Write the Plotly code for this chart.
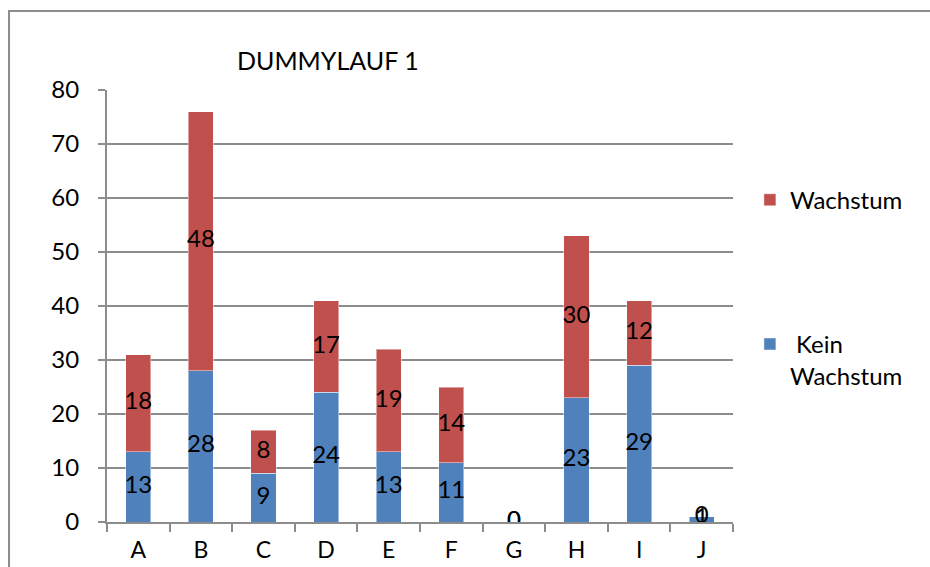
import plotly.graph_objects as go

# Data
categories = ["A", "B", "C", "D", "E", "F", "G", "H", "I", "J"]
kein_wachstum = [13, 28, 9, 24, 13, 11, 0, 23, 29, 1]
wachstum = [18, 48, 8, 17, 19, 14, 0, 30, 12, 0]
y_ticks = [0, 10, 20, 30, 40, 50, 60, 70, 80]

BLUE = "#4F81BD"
RED = "#C0504D"
GRID = "#8C8C8C"
FONT = "Lato"

fig = go.Figure()

fig.add_trace(go.Bar(
    x=categories, y=kein_wachstum, name=" Kein<br>Wachstum",
    marker=dict(color=BLUE, line=dict(color="rgba(255,255,255,0.45)", width=1)),
    legendgroup="kein", legendrank=2, hoverinfo="x+y",
))
fig.add_trace(go.Bar(
    x=categories, y=wachstum, name="Wachstum",
    marker=dict(color=RED, line=dict(color="rgba(255,255,255,0.45)", width=1)),
    legendgroup="wachstum", legendrank=1, hoverinfo="x+y",
))

# Value labels centred in each stacked segment
blue_mid = [v / 2 for v in kein_wachstum]
red_mid = [k + v / 2 for k, v in zip(kein_wachstum, wachstum)]
for mids, vals in ((blue_mid, kein_wachstum), (red_mid, wachstum)):
    fig.add_trace(go.Scatter(
        x=categories, y=mids, text=[str(v) for v in vals], mode="text",
        textposition="middle center",
        textfont=dict(family=FONT, size=24, color="black"),
        showlegend=False, hoverinfo="skip",
    ))

# Outer chart frame
fig.add_shape(
    type="rect", xref="paper", yref="paper",
    x0=-0.1565, x1=1.33, y0=-0.12, y1=1.183,
    line=dict(color=GRID, width=2), fillcolor="rgba(0,0,0,0)", layer="below",
)

fig.add_annotation(
    text="DUMMYLAUF 1", xref="paper", yref="paper",
    x=0.353, y=1.069, xanchor="center", yanchor="middle", showarrow=False,
    font=dict(family=FONT, size=25, color="black"),
)

fig.update_layout(
    width=930, height=567,
    margin=dict(l=107, r=197, t=90, b=45, autoexpand=False),
    paper_bgcolor="white", plot_bgcolor="white",
    barmode="stack", bargap=0.6,
    font=dict(family=FONT, size=24, color="black"),
    showlegend=True,
    legend=dict(
        x=1.027, y=0.797, xanchor="left", yanchor="top",
        traceorder="grouped", tracegroupgap=110,
        valign="top", font=dict(family=FONT, size=24, color="black"),
        itemwidth=30,
    ),
)

fig.update_xaxes(
    type="category", showgrid=False, automargin=False,
    showline=True, linecolor=GRID, linewidth=2,
    ticks="outside", tickson="boundaries", ticklen=8, tickcolor=GRID, tickwidth=2,
    ticklabelstandoff=6,
    tickfont=dict(family=FONT, size=23, color="black"),
)
fig.update_yaxes(
    range=[0, 80], tickvals=y_ticks, automargin=False,
    showgrid=True, gridcolor=GRID, gridwidth=2,
    showline=True, linecolor=GRID, linewidth=2,
    ticks="outside", ticklen=7, tickcolor=GRID, tickwidth=2,
    ticklabelstandoff=14, zeroline=False,
    tickfont=dict(family=FONT, size=24, color="black"),
)

fig.write_html("out.html")
